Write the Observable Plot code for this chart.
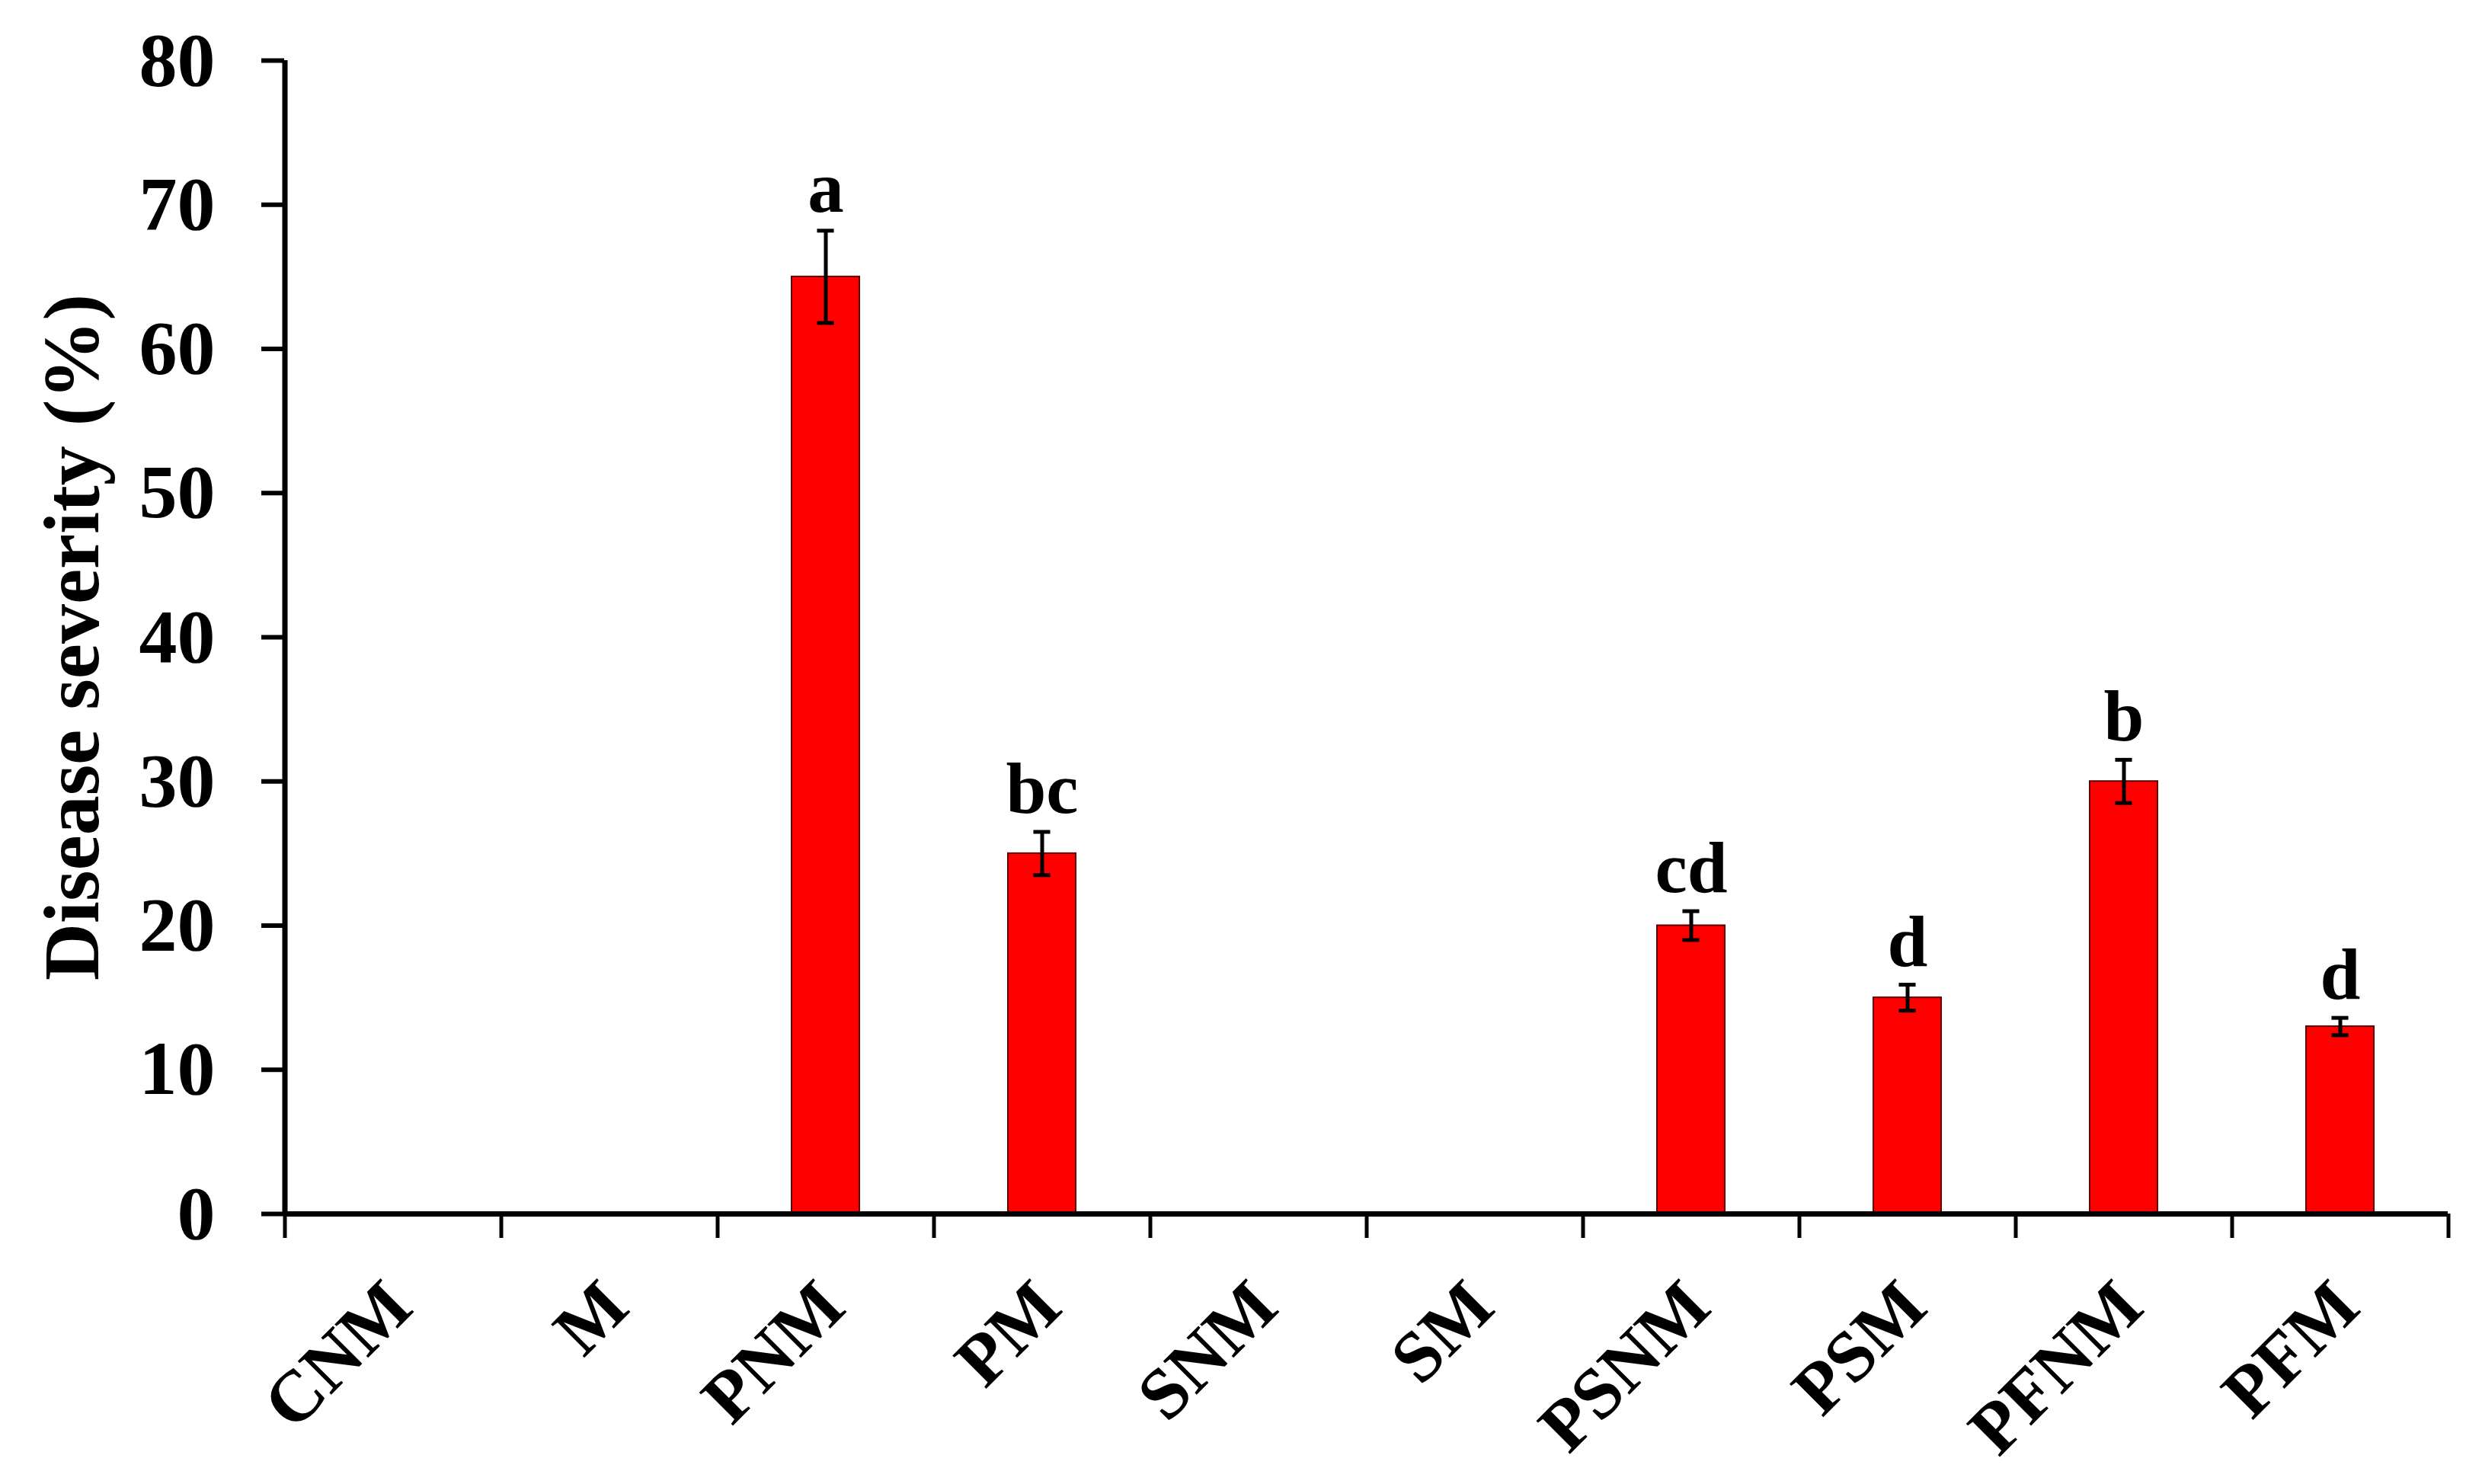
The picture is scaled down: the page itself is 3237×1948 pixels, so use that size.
<!DOCTYPE html>
<html>
<head>
<meta charset="utf-8">
<script src="https://cdn.jsdelivr.net/npm/d3@7"></script>
<script src="https://cdn.jsdelivr.net/npm/@observablehq/plot@0.6"></script>
<style>
  html, body { margin: 0; padding: 0; background: #fff; }
  #chart { width: 3237px; height: 1948px; }
</style>
</head>
<body>
<div id="chart"></div>
<script>
const categories = ["CNM", "M", "PNM", "PM", "SNM", "SM", "PSNM", "PSM", "PFNM", "PFM"];
const severity   = [0, 0, 65, 25, 0, 0, 20, 15, 30, 13];
const stdErr     = [0, 0, 3.2, 1.5, 0, 0, 1.0, 0.9, 1.5, 0.6];
const letters    = ["", "", "a", "bc", "", "", "cd", "d", "b", "d"];
const yTicks     = [0, 10, 20, 30, 40, 50, 60, 70, 80];
const yTitle     = "Disease severity (%)";

const W = 3237, H = 1948;
const mL = 373, mR = 24, mT = 79, mB = 355;
const step = (W - mL - mR) / categories.length;
const barFrac = 0.313;
const capW = 22;

const rows = categories.map((c, i) => ({cat: c, v: severity[i], e: stdErr[i], t: letters[i]}));
const shown = rows.filter(d => d.v > 0);
const font = "Liberation Serif, Times New Roman, serif";

const chart = Plot.plot({
  width: W, height: H,
  marginLeft: mL, marginRight: mR, marginTop: mT, marginBottom: mB,
  style: {fontFamily: font, fontWeight: "bold", fontSize: "100px", color: "#000", background: "#fff"},
  x: {domain: categories, paddingInner: 1 - barFrac, paddingOuter: (1 - barFrac) / 2},
  y: {domain: [0, 80], ticks: yTicks},
  marks: [
    Plot.barY(shown, {x: "cat", y: "v", fill: "#ff0000", stroke: "#5a0000", strokeWidth: 2}),
    Plot.ruleX(shown, {x: "cat", y1: d => d.v - d.e, y2: d => d.v + d.e, stroke: "#000", strokeWidth: 5}),
    Plot.tickY(shown, {x: "cat", y: d => d.v + d.e, stroke: "#000", strokeWidth: 5,
      insetLeft: (step * barFrac - capW) / 2, insetRight: (step * barFrac - capW) / 2}),
    Plot.tickY(shown, {x: "cat", y: d => d.v - d.e, stroke: "#000", strokeWidth: 5,
      insetLeft: (step * barFrac - capW) / 2, insetRight: (step * barFrac - capW) / 2}),
    Plot.text(shown, {x: "cat", y: d => d.v + d.e, text: "t", dy: -25, lineAnchor: "bottom",
      fontSize: 95, fontWeight: "bold", fontFamily: font, fill: "#000"}),
    // axis lines
    Plot.ruleY([0], {stroke: "#000", strokeWidth: 7}),
    Plot.ruleX([categories[0]], {dx: -step / 2, stroke: "#000", strokeWidth: 7}),
    // y axis ticks and labels
    Plot.axisY({ticks: yTicks, tickSize: 30, tickPadding: 61, strokeWidth: 6,
      fontSize: 100, fontWeight: "bold", fontFamily: font, label: null}),
    // x boundary ticks
    Plot.axisX({ticks: categories, tickSize: 32, dx: -step / 2, strokeWidth: 5, tickFormat: () => "", label: null}),
    Plot.axisX({ticks: [categories[categories.length - 1]], tickSize: 32, dx: step / 2, strokeWidth: 5, tickFormat: () => "", label: null}),
    // x category labels
    Plot.text(categories, {x: d => d, frameAnchor: "bottom", rotate: -45, textAnchor: "end", lineAnchor: "middle",
      dx: 8, dy: 105, fontSize: 95, fontWeight: "bold", fontFamily: font, fill: "#000"}),
    // y title
    Plot.text([yTitle], {frameAnchor: "left", rotate: -90, textAnchor: "middle", lineAnchor: "bottom",
      dx: -(mL - 128), fontSize: 104, fontWeight: "bold", fontFamily: font, fill: "#000"})
  ]
});
document.getElementById("chart").appendChild(chart);
</script>
</body>
</html>
